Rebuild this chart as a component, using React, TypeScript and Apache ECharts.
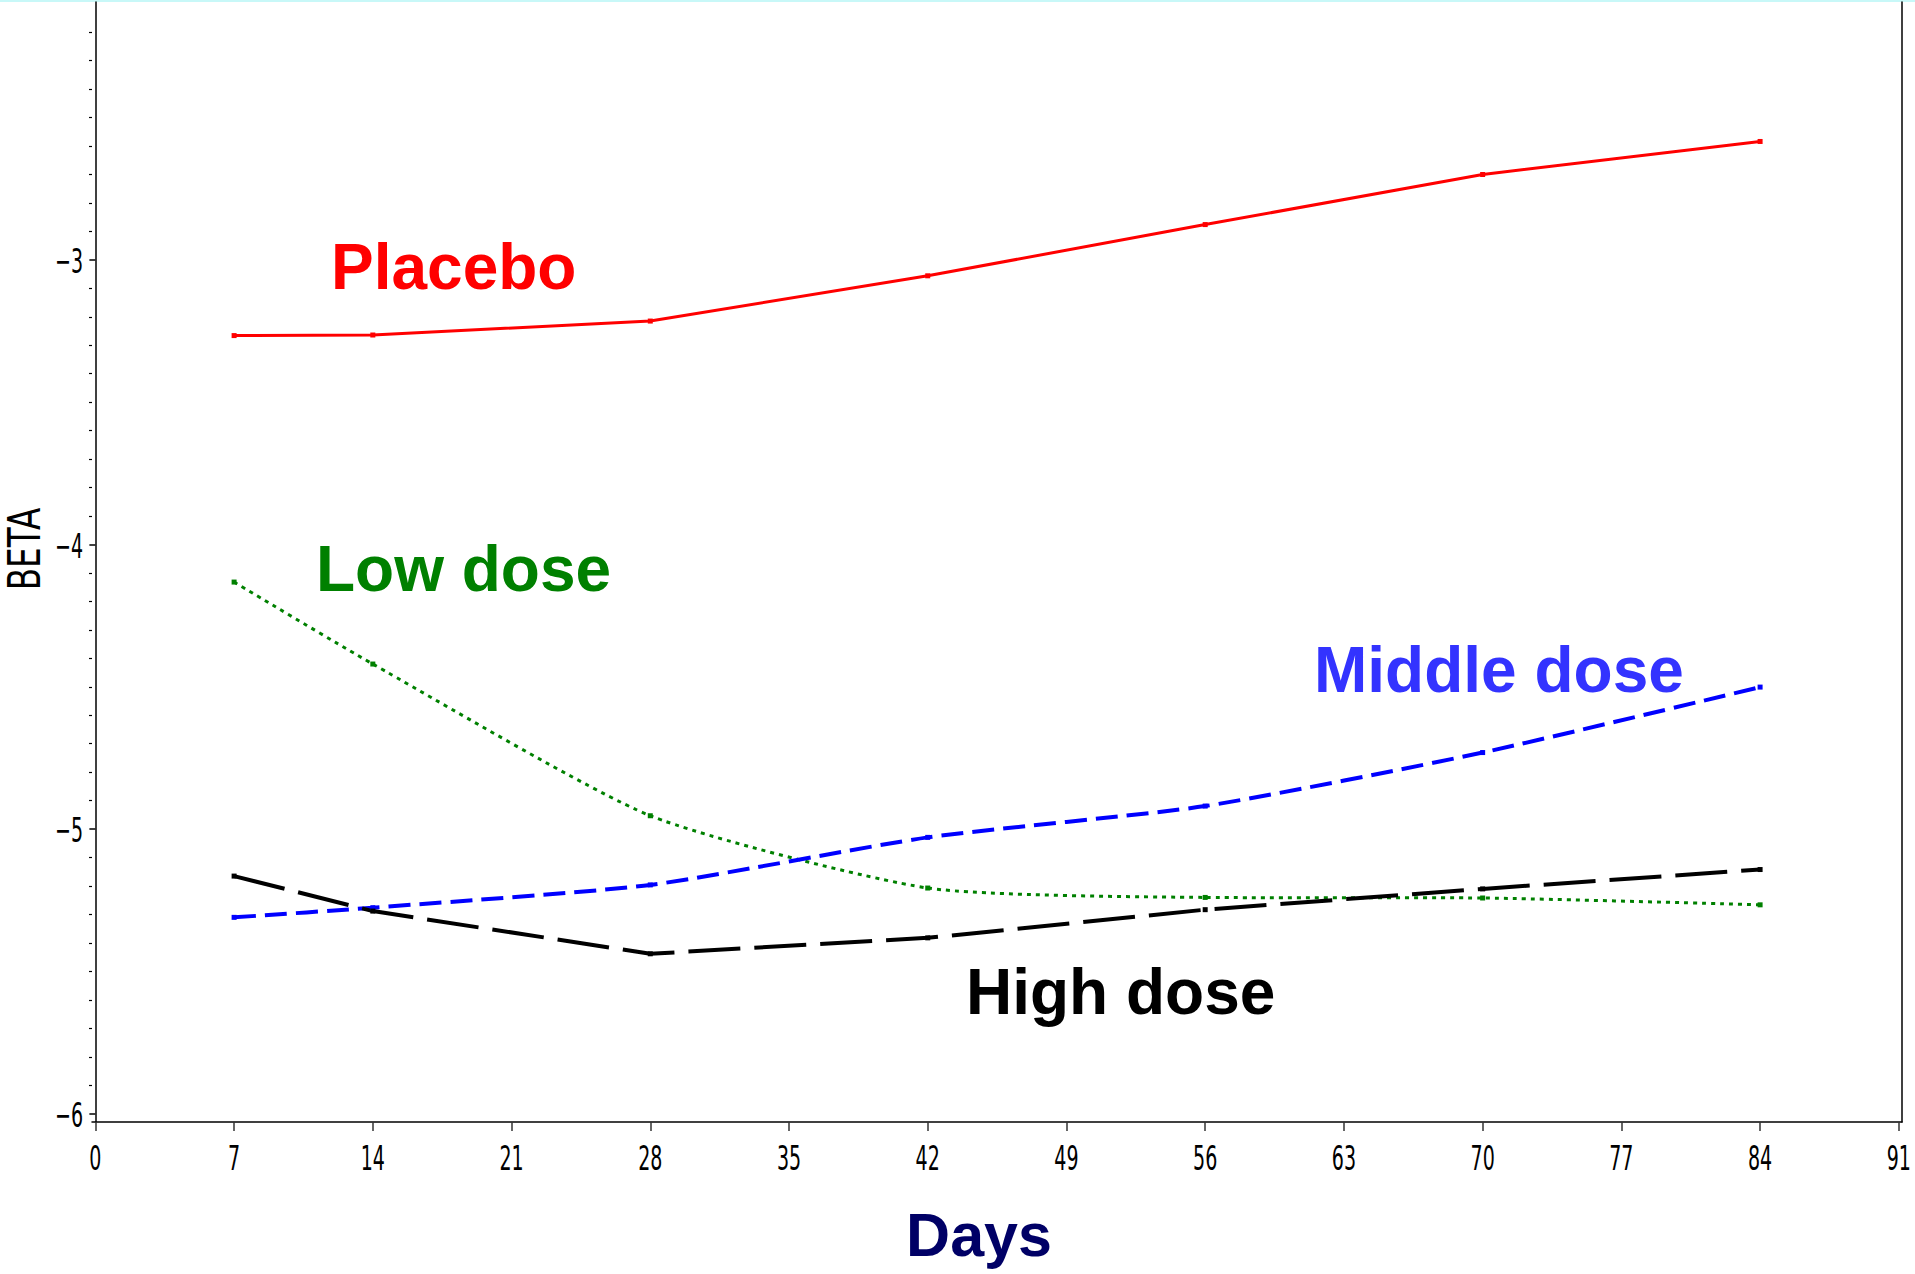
import React, { useEffect, useRef } from "react";
import * as echarts from "echarts";

// ---- Data ----
const DAYS_PLACEBO = [7, 14, 28, 42, 56, 70, 84];
const PLACEBO = [-3.266, -3.264, -3.215, -3.056, -2.876, -2.700, -2.584];

const DAYS_LOW = [7, 14, 28, 42, 56, 70, 84];
const LOW_DOSE = [-4.132, -4.42, -4.953, -5.207, -5.240, -5.242, -5.266];

const DAYS_MIDDLE = [7, 14, 28, 42, 56, 70, 84];
const MIDDLE_DOSE = [-5.310, -5.276, -5.196, -5.029, -4.919, -4.731, -4.501];

const DAYS_HIGH = [7, 14, 28, 42, 56, 70, 84];
const HIGH_DOSE = [-5.165, -5.288, -5.438, -5.382, -5.283, -5.210, -5.142];

const X_TICKS = [0, 7, 14, 21, 28, 35, 42, 49, 56, 63, 70, 77, 84, 91];
const Y_TICKS = [-6, -5, -4, -3];
const Y_MINOR_TICKS: number[] = [];
for (let i = -59; i <= -22; i++) {
  if (i % 10 !== 0) Y_MINOR_TICKS.push(i / 10);
}

const X_NAME = "Days";
const Y_NAME = "BETA";
const SERIES_NAMES = ["Placebo", "Low dose", "Middle dose", "High dose"];

const pair = (xs: number[], ys: number[]) => xs.map((x, i) => [x, ys[i]]);

const TICK_FAMILY = "DejaVu Sans";
const LABEL_FAMILY = "Liberation Sans";

const labelText = (text: string, x: number, y: number, fill: string, size: number, align = "left") => ({
  type: "text",
  x,
  y,
  silent: true,
  style: {
    text,
    fill,
    fontFamily: LABEL_FAMILY,
    fontWeight: "bold",
    fontSize: size,
    align,
    verticalAlign: "middle",
  },
});

export default function App() {
  const ref = useRef<HTMLDivElement>(null);

  useEffect(() => {
    if (!ref.current) return;
    const chart = echarts.init(ref.current, undefined, { renderer: "svg" });

    const yMin = -6.029;
    const yMax = -2.094;

    const baseGraphics: any[] = [
      {
        type: "rect",
        shape: { x: 0, y: 0, width: 1915, height: 2 },
        style: { fill: "#c8f8f8" },
        silent: true,
      },
      {
        type: "text",
        x: 25,
        y: 549,
        rotation: Math.PI / 2,
        scaleX: 0.74,
        silent: true,
        style: {
          text: Y_NAME,
          fill: "#000",
          fontFamily: TICK_FAMILY,
          fontSize: 44,
          align: "center",
          verticalAlign: "middle",
        },
      },
      labelText(X_NAME, 979, 1235, "#000066", 61, "center"),
      labelText(SERIES_NAMES[0], 331, 267, "#ff0000", 64),
      labelText(SERIES_NAMES[1], 316, 569, "#008000", 64),
      labelText(SERIES_NAMES[2], 1314, 670, "#3333ff", 64),
      labelText(SERIES_NAMES[3], 966, 992, "#000000", 64),
    ];

    const option: any = {
      animation: false,
      backgroundColor: "#ffffff",
      grid: {
        left: 92,
        right: 13,
        top: 2,
        bottom: 152,
        containLabel: false,
        outerBoundsMode: "none",
      },
      xAxis: {
        type: "value",
        min: -0.17,
        max: 91.16,
        splitLine: { show: false },
        axisLine: { show: true, lineStyle: { color: "#000", width: 1.5 } },
        axisTick: {
          show: true,
          customValues: X_TICKS,
          length: 9,
          lineStyle: { color: "#333", width: 1.5 },
        },
        axisLabel: { show: false },
      },
      yAxis: [
        {
          type: "value",
          position: "left",
          min: yMin,
          max: yMax,
          splitLine: { show: false },
          axisLine: { show: true, lineStyle: { color: "#000", width: 1.5 } },
          axisTick: {
            show: true,
            customValues: Y_TICKS,
            length: 6,
            lineStyle: { color: "#000", width: 1.5 },
          },
          axisLabel: { show: false },
        },
        {
          type: "value",
          position: "left",
          min: yMin,
          max: yMax,
          splitLine: { show: false },
          axisLine: { show: false },
          axisTick: {
            show: true,
            customValues: Y_MINOR_TICKS,
            length: 3,
            lineStyle: { color: "#000", width: 1.2 },
          },
          axisLabel: { show: false },
        },
        {
          type: "value",
          position: "right",
          min: yMin,
          max: yMax,
          splitLine: { show: false },
          axisLine: { show: true, lineStyle: { color: "#000", width: 1.5 } },
          axisTick: { show: false },
          axisLabel: { show: false },
        },
      ],
      series: [
        {
          name: SERIES_NAMES[0],
          type: "line",
          data: pair(DAYS_PLACEBO, PLACEBO),
          symbol: "rect",
          symbolSize: 5,
          itemStyle: { color: "#ff0000" },
          lineStyle: { color: "#ff0000", width: 3, type: "solid" },
        },
        {
          name: SERIES_NAMES[1],
          type: "line",
          data: pair(DAYS_LOW, LOW_DOSE),
          smooth: 0.2,
          symbol: "rect",
          symbolSize: 5,
          itemStyle: { color: "#008000" },
          lineStyle: { color: "#008000", width: 3, type: [4, 5] },
        },
        {
          name: SERIES_NAMES[2],
          type: "line",
          data: pair(DAYS_MIDDLE, MIDDLE_DOSE),
          smooth: 0.2,
          symbol: "rect",
          symbolSize: 5,
          itemStyle: { color: "#0000ff" },
          lineStyle: { color: "#0000ff", width: 4, type: [22, 9] },
        },
        {
          name: SERIES_NAMES[3],
          type: "line",
          data: pair(DAYS_HIGH, HIGH_DOSE),
          symbol: "rect",
          symbolSize: 5,
          itemStyle: { color: "#000000" },
          lineStyle: { color: "#000000", width: 4, type: [52, 14] },
        },
      ],
      graphic: baseGraphics,
    };

    chart.setOption(option);

    // Tick labels in a condensed style, placed through the axes' own scales.
    const xLabelY = chart.convertToPixel({ yAxisIndex: 0 }, yMin) as number;
    const yLabelX = chart.convertToPixel({ xAxisIndex: 0 }, -0.17) as number;
    const tickStyle = {
      fill: "#000",
      fontFamily: TICK_FAMILY,
      fontSize: 34,
      verticalAlign: "middle",
    };
    const tickLabels: any[] = [];
    X_TICKS.forEach((v) => {
      const px = chart.convertToPixel({ xAxisIndex: 0 }, v) as number;
      tickLabels.push({
        type: "text",
        x: px,
        y: xLabelY + 36,
        scaleX: 0.56,
        silent: true,
        style: { ...tickStyle, text: String(v), align: "center" },
      });
    });
    Y_TICKS.forEach((v) => {
      const py = chart.convertToPixel({ yAxisIndex: 0 }, v) as number;
      tickLabels.push({
        type: "text",
        x: yLabelX - 9,
        y: py + 1,
        scaleX: 0.56,
        silent: true,
        style: { ...tickStyle, text: String(v).replace("-", "\u2212"), align: "right" },
      });
    });
    chart.setOption({ graphic: baseGraphics.concat(tickLabels) });

    return () => {
      chart.dispose();
    };
  }, []);

  return (
    <div
      ref={ref}
      style={{ position: "absolute", left: 0, top: 0, width: 1915, height: 1274 }}
    />
  );
}
